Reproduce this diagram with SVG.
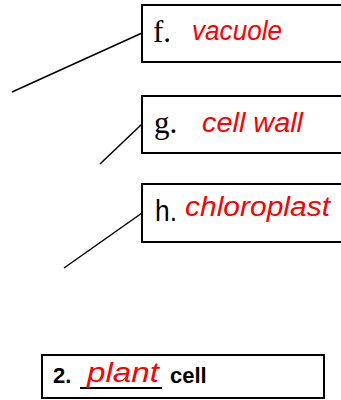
<svg xmlns="http://www.w3.org/2000/svg" width="341" height="400" viewBox="0 0 341 400">
<style>
.box{fill:#fff;stroke:#000;stroke-width:2}
.con line{stroke:#000;stroke-width:1.5}
.ser{font-family:"Liberation Serif",serif;font-size:31px;fill:#000}
.san{font-family:"Liberation Sans",sans-serif;font-size:29px;fill:#000}
.hand{font-family:"Liberation Sans",sans-serif;font-style:italic;font-size:27px;fill:#ff0000}
.bold{font-family:"Liberation Sans",sans-serif;font-weight:bold;font-size:22px;fill:#000}
</style>
<rect width="341" height="400" fill="#fff"/>
<g class="con">
<line x1="142" y1="33" x2="12" y2="92"/>
<line x1="142" y1="124" x2="100" y2="164"/>
<line x1="142" y1="213" x2="64" y2="268"/>
</g>
<g id="f">
<rect class="box" x="142" y="5" width="220" height="57"/>
<text class="ser" x="153" y="42">f.</text>
<text class="hand" x="192" y="40" textLength="90" lengthAdjust="spacingAndGlyphs">vacuole</text>
</g>
<g id="g">
<rect class="box" x="142" y="96" width="220" height="57"/>
<text class="ser" x="154" y="133">g.</text>
<text class="hand" x="202" y="132" textLength="101" lengthAdjust="spacingAndGlyphs">cell wall</text>
</g>
<g id="h">
<rect class="box" x="142" y="184" width="220" height="58"/>
<text class="san" x="155" y="221" textLength="22" lengthAdjust="spacingAndGlyphs">h.</text>
<text class="hand" x="185" y="216" textLength="145" lengthAdjust="spacingAndGlyphs">chloroplast</text>
</g>
<g id="cell">
<rect class="box" x="42" y="355" width="282" height="43"/>
<text class="bold" x="53" y="383">2.</text>
<line x1="80" y1="388" x2="162" y2="388" stroke="#000" stroke-width="2"/>
<text class="hand" x="87" y="382" textLength="72" lengthAdjust="spacingAndGlyphs">plant</text>
<text class="bold" x="170" y="383">cell</text>
</g>
</svg>
